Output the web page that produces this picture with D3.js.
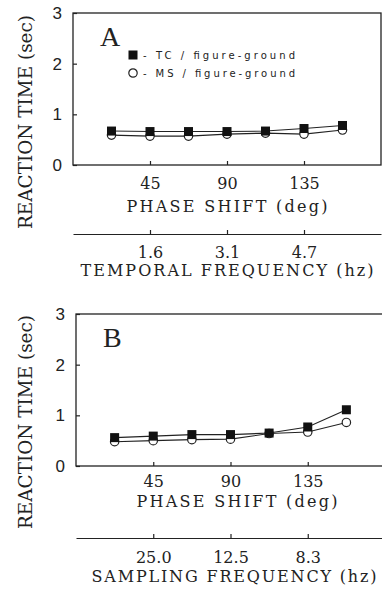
<!DOCTYPE html>
<meta charset="UTF-8">
<style>
body { margin: 0; background: #fff; }
svg { display: block; }
.axis text { font-family: "DejaVu Serif", serif; font-size: 16px; fill: #222; }
.yaxis text { font-family: "Liberation Sans", sans-serif; font-size: 17px; fill: #222; }
.axis path, .axis line { stroke: #222; stroke-width: 1.2px; }
.title { font-family: "DejaVu Serif", serif; font-size: 16px; fill: #222; }
.legend { font-family: "DejaVu Sans", sans-serif; font-size: 10px; fill: #222; }
</style>
<body>
<script src="https://d3js.org/d3.v7.min.js"></script>
<script>

// phase shift of each stimulus (deg)
var phase = [22.5, 45, 67.5, 90, 112.5, 135, 157.5];

// panel A reaction times (sec)
var tcA = [0.67, 0.66, 0.66, 0.66, 0.67, 0.72, 0.78];
var msA = [0.59, 0.57, 0.57, 0.61, 0.63, 0.61, 0.69];

// panel B reaction times (sec)
var tcB = [0.56, 0.59, 0.62, 0.62, 0.65, 0.77, 1.11];
var msB = [0.48, 0.50, 0.52, 0.53, 0.64, 0.67, 0.86];

var phaseTicks = [45, 90, 135];
var yTicks = [0, 1, 2, 3];
var temporalLabels = ["1.6", "3.1", "4.7"];
var samplingLabels = ["25.0", "12.5", "8.3"];
var legendLabels = ["- TC / figure-ground", "- MS / figure-ground"];

var svg = d3.select("body").append("svg")
    .attr("width", 382)
    .attr("height", 593);

// one panel = framed plot + phase axis + a second frequency axis under it
function panel(p) {
  var x = d3.scaleLinear().domain([0, 180]).range([p.left, p.right]);
  var y = d3.scaleLinear().domain([0, 3]).range([p.bottom, p.top]);
  var g = svg.append("g");

  // frame
  g.append("rect")
      .attr("x", x(0)).attr("y", y(3))
      .attr("width", x(180) - x(0)).attr("height", y(0) - y(3))
      .attr("fill", "none").attr("stroke", "#222").attr("stroke-width", 1.3);

  // y axis, ticks pointing in
  var ya = g.append("g")
      .attr("class", "axis yaxis")
      .attr("transform", "translate(" + x(0) + ",0)")
      .call(d3.axisLeft(y).tickValues(yTicks).tickFormat(d3.format("d"))
            .tickSizeInner(-4).tickSizeOuter(0).tickPadding(11));
  ya.select(".domain").remove();

  // phase shift axis
  var xa = g.append("g")
      .attr("class", "axis")
      .attr("transform", "translate(0," + y(0) + ")")
      .call(d3.axisBottom(x).tickValues(phaseTicks)
            .tickSizeInner(-4).tickSizeOuter(0));
  xa.select(".domain").remove();
  xa.selectAll("text")
      .attr("y", p.tickY - y(0)).attr("dy", "0.35em");

  g.append("text").attr("class", "title")
      .attr("x", p.titleX).attr("y", p.titleY).attr("dy", "0.35em")
      .attr("text-anchor", "middle")
      .attr("textLength", 201).attr("lengthAdjust", "spacing")
      .text("PHASE SHIFT (deg)");

  // frequency axis
  var fa = g.append("g")
      .attr("class", "axis")
      .attr("transform", "translate(0," + p.freqY + ")")
      .call(d3.axisBottom(x).tickValues(phaseTicks)
            .tickFormat(function(d, i) { return p.freqLabels[i]; })
            .tickSizeInner(-4).tickSizeOuter(0));
  fa.selectAll("text")
      .attr("y", p.freqTickY - p.freqY).attr("dy", "0.35em");

  g.append("text").attr("class", "title")
      .attr("x", p.freqTitleX).attr("y", p.freqTitleY).attr("dy", "0.35em")
      .attr("text-anchor", "middle")
      .attr("textLength", p.freqTitleLen).attr("lengthAdjust", "spacing")
      .text(p.freqTitle);

  // y title
  g.append("text").attr("class", "title")
      .attr("transform", "translate(25," + p.yTitleY + ") rotate(-90)")
      .attr("dy", "0.35em")
      .attr("text-anchor", "middle")
      .attr("textLength", 214).attr("lengthAdjust", "spacingAndGlyphs")
      .style("font-size", "19px")
      .text("REACTION TIME (sec)");

  // panel letter
  g.append("text")
      .attr("x", x(0) + 27).attr("y", y(3) + 33)
      .style("font-family", "Liberation Serif, serif")
      .style("font-size", "28px").style("fill", "#222")
      .text(p.letter);

  var line = d3.line()
      .x(function(d, i) { return x(phase[i]); })
      .y(function(d) { return y(d); });

  g.append("path").datum(p.ms)
      .attr("d", line).attr("fill", "none")
      .attr("stroke", "#222").attr("stroke-width", 1.1);
  g.append("path").datum(p.tc)
      .attr("d", line).attr("fill", "none")
      .attr("stroke", "#222").attr("stroke-width", 1.1);

  // MS open circles, TC filled squares on top
  g.selectAll("circle.ms").data(p.ms).enter().append("circle")
      .attr("class", "ms")
      .attr("cx", function(d, i) { return x(phase[i]); })
      .attr("cy", function(d) { return y(d); })
      .attr("r", 4.2)
      .attr("fill", "#fff").attr("stroke", "#222").attr("stroke-width", 1.2);

  g.selectAll("rect.tc").data(p.tc).enter().append("rect")
      .attr("class", "tc")
      .attr("x", function(d, i) { return x(phase[i]) - 4.5; })
      .attr("y", function(d) { return y(d) - 4.5; })
      .attr("width", 9).attr("height", 9)
      .attr("fill", "#111");

  return {x: x, y: y, g: g};
}

var A = panel({
  left: 73, right: 381, top: 13, bottom: 165, letter: "A",
  tc: tcA, ms: msA,
  tickY: 183, titleX: 227, titleY: 206,
  freqY: 234, freqTickY: 252, freqLabels: temporalLabels,
  freqTitle: "TEMPORAL FREQUENCY (hz)", freqTitleX: 227, freqTitleY: 270, freqTitleLen: 293,
  yTitleY: 122
});

var B = panel({
  left: 76, right: 385, top: 314, bottom: 466, letter: "B",
  tc: tcB, ms: msB,
  tickY: 481, titleX: 237, titleY: 501,
  freqY: 538, freqTickY: 557, freqLabels: samplingLabels,
  freqTitle: "SAMPLING FREQUENCY (hz)", freqTitleX: 234, freqTitleY: 576, freqTitleLen: 285,
  yTitleY: 422
});

// legend in panel A
var leg = A.g.append("g").attr("transform", "translate(133,55)");
leg.append("rect").attr("x", -4.5).attr("y", -4.5).attr("width", 9).attr("height", 9)
    .attr("fill", "#111");
leg.append("circle").attr("cx", 0).attr("cy", 18).attr("r", 4.2)
    .attr("fill", "#fff").attr("stroke", "#222").attr("stroke-width", 1.2);
leg.selectAll("text").data(legendLabels).enter().append("text")
    .attr("class", "legend")
    .attr("x", 10).attr("y", function(d, i) { return i * 18; })
    .attr("dy", "0.35em")
    .attr("textLength", 152).attr("lengthAdjust", "spacing")
    .text(function(d) { return d; });

</script>
</body>
